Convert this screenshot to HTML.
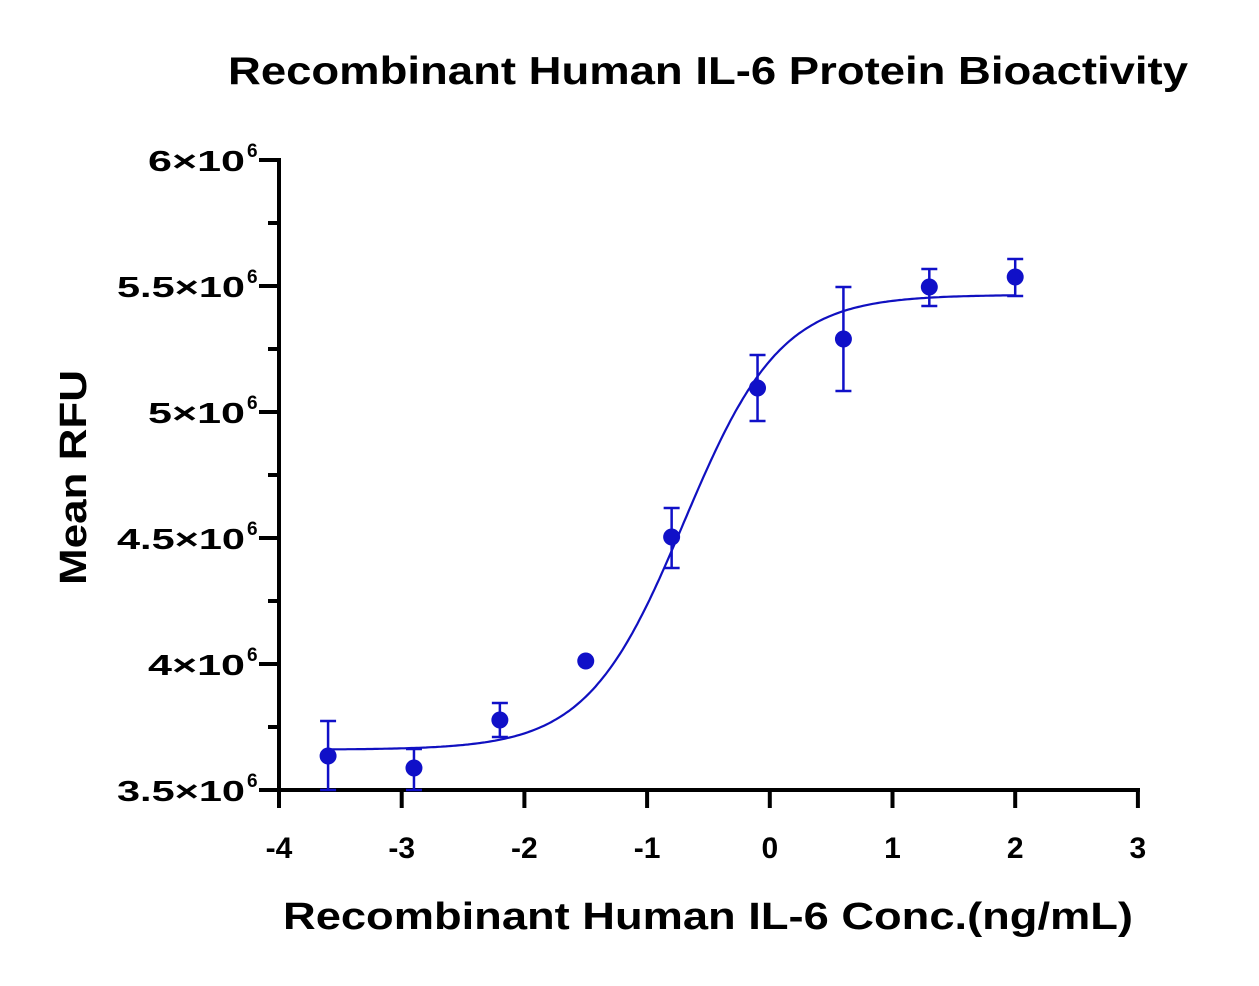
<!DOCTYPE html>
<html><head><meta charset="utf-8"><style>
body{margin:0;background:#fff;}
svg text{font-family:"Liberation Sans",Arial,sans-serif;font-weight:bold;fill:#000;}
</style></head><body>
<svg id="s" width="1259" height="981" xmlns="http://www.w3.org/2000/svg">
<text x="228" y="84" font-size="39" textLength="960" lengthAdjust="spacingAndGlyphs">Recombinant Human IL-6 Protein Bioactivity</text>
<text transform="translate(86,585) rotate(-90)" font-size="38" textLength="215" lengthAdjust="spacingAndGlyphs">Mean RFU</text>
<text x="283" y="929" font-size="38" textLength="850" lengthAdjust="spacingAndGlyphs">Recombinant Human IL-6 Conc.(ng/mL)</text>
<g stroke="#000" stroke-width="4" fill="none">
<line x1="279" y1="158" x2="279" y2="792"/>
<line x1="277" y1="790" x2="1140" y2="790"/>
<g id="yt"></g><g id="xt"></g>
</g>
<g id="lab"></g>
<path id="curve" fill="none" stroke="#1010c0" stroke-width="2.2"/>
<g id="pts" fill="#1010c8" stroke="#1010c8" stroke-width="2.5"></g>
</svg>
<script>
var ns="http://www.w3.org/2000/svg";
function el(p,t,a,txt){var e=document.createElementNS(ns,t);for(var k in a)e.setAttribute(k,a[k]);if(txt!=null)e.textContent=txt;document.getElementById(p).appendChild(e);return e;}
function X(v){return 279+(v+4)*122.7;}
function Y(v){return 790-(v-3.5)*252;}
var yl=["3.5","4","4.5","5","5.5","6"];
var yw=[128,97,128,97,128,97];
for(var i=0;i<=10;i++){var y=790-i*63;el("yt","line",{x1:(i%2?268:259),y1:y,x2:279,y2:y});}
for(var i=0;i<6;i++){var y=790-i*126;
 el("lab","text",{x:245-yw[i],y:y+11,"font-size":29,textLength:yw[i],lengthAdjust:"spacingAndGlyphs"},yl[i]+"×10");
 el("lab","text",{x:247,y:y-3,"font-size":19},"6");}
for(var i=-4;i<=3;i++){var x=X(i);el("xt","line",{x1:x,y1:790,x2:x,y2:808});
 el("lab","text",{x:x,y:858,"font-size":30,"text-anchor":"middle"},(i<0?"-":"")+Math.abs(i));}
var d="";for(var v=-3.6;v<=2.001;v+=0.02){var r=3.66+(5.465-3.66)/(1+Math.pow(10,(-0.7-v)*1.1));d+=(d?"L":"M")+X(v).toFixed(1)+","+Y(r).toFixed(1);}
document.getElementById("curve").setAttribute("d",d);
var P=[[-3.6,756,721,790],[-2.9,768,749,790],[-2.2,720,703,737],[-1.5,661,661,661],[-0.8,537,508,568],[-0.1,388,355,421],[0.6,339,287,391],[1.3,287,269,306],[2.0,277,259,296]];
P.forEach(function(p){var x=X(p[0]);if(p[2]!=p[3]){el("pts","line",{x1:x,y1:p[2],x2:x,y2:p[3]});el("pts","line",{x1:x-8,y1:p[2],x2:x+8,y2:p[2]});el("pts","line",{x1:x-8,y1:p[3],x2:x+8,y2:p[3]});}
el("pts","circle",{cx:x,cy:p[1],r:8.5,stroke:"none"});});
</script>
</body></html>
